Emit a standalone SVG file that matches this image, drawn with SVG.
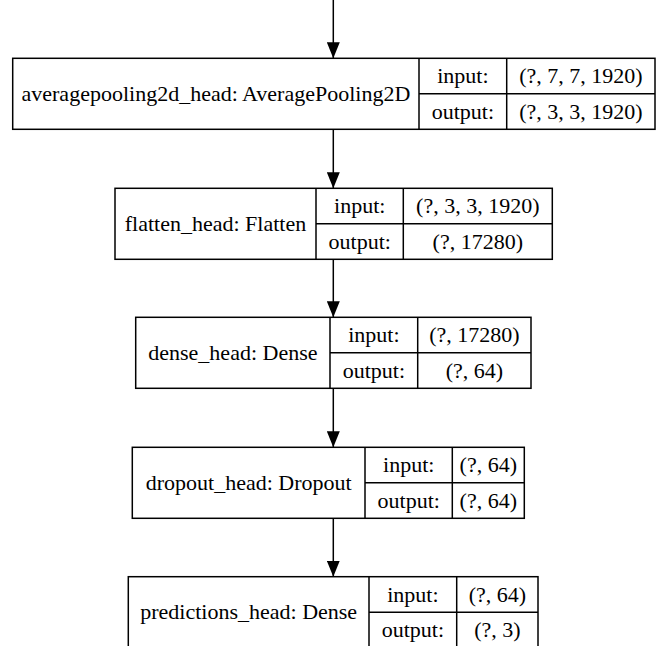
<svg xmlns="http://www.w3.org/2000/svg" width="658" height="646" viewBox="0 0 658 646">
<style>
.box{fill:#fff;stroke:#000;stroke-width:1.5}
.div{stroke:#000;stroke-width:1.5}
.edge{stroke:#000;stroke-width:1.5;fill:none}
text{font-family:"Liberation Serif","Times New Roman",serif;font-size:22px;fill:#000;text-anchor:middle}
</style>
<defs>
<marker id="ah" markerWidth="16" markerHeight="13" refX="16" refY="6.5" orient="auto" markerUnits="userSpaceOnUse">
<path d="M0,0 L16,6.5 L0,13 z" fill="#000"/>
</marker>
</defs>
<rect x="0" y="0" width="658" height="646" fill="#fff"/>
<g id="connectors">
<line class="edge" x1="333.3" y1="0" x2="333.3" y2="58.3" marker-end="url(#ah)"/>
<line class="edge" x1="333.3" y1="129.3" x2="333.3" y2="188.3" marker-end="url(#ah)"/>
<line class="edge" x1="333.3" y1="259.3" x2="333.3" y2="317.3" marker-end="url(#ah)"/>
<line class="edge" x1="333.3" y1="388.3" x2="333.3" y2="447.3" marker-end="url(#ah)"/>
<line class="edge" x1="333.3" y1="518.3" x2="333.3" y2="576.7" marker-end="url(#ah)"/>
</g>
<g id="averagepooling2d_head">
<rect class="box" x="12.7" y="58.3" width="642.3" height="71"/>
<line class="div" x1="419" y1="58.3" x2="419" y2="129.3"/>
<line class="div" x1="506.7" y1="58.3" x2="506.7" y2="129.3"/>
<line class="div" x1="419" y1="93.8" x2="655" y2="93.8"/>
<text x="215.9" y="101">averagepooling2d_head: AveragePooling2D</text>
<text x="462.9" y="83.2">input:</text>
<text x="462.9" y="118.7">output:</text>
<text x="580.9" y="83.2">(?, 7, 7, 1920)</text>
<text x="580.9" y="118.7">(?, 3, 3, 1920)</text>
</g>
<g id="flatten_head">
<rect class="box" x="115" y="188.3" width="437.3" height="71"/>
<line class="div" x1="316" y1="188.3" x2="316" y2="259.3"/>
<line class="div" x1="403.3" y1="188.3" x2="403.3" y2="259.3"/>
<line class="div" x1="316" y1="223.8" x2="552.3" y2="223.8"/>
<text x="215.5" y="231">flatten_head: Flatten</text>
<text x="359.7" y="213.2">input:</text>
<text x="359.7" y="248.7">output:</text>
<text x="477.8" y="213.2">(?, 3, 3, 1920)</text>
<text x="477.8" y="248.7">(?, 17280)</text>
</g>
<g id="dense_head">
<rect class="box" x="135.7" y="317.3" width="395.3" height="71"/>
<line class="div" x1="330" y1="317.3" x2="330" y2="388.3"/>
<line class="div" x1="417.7" y1="317.3" x2="417.7" y2="388.3"/>
<line class="div" x1="330" y1="352.8" x2="531" y2="352.8"/>
<text x="232.9" y="360">dense_head: Dense</text>
<text x="373.9" y="342.2">input:</text>
<text x="373.9" y="377.7">output:</text>
<text x="474.4" y="342.2">(?, 17280)</text>
<text x="474.4" y="377.7">(?, 64)</text>
</g>
<g id="dropout_head">
<rect class="box" x="132.3" y="447.3" width="392" height="71"/>
<line class="div" x1="365" y1="447.3" x2="365" y2="518.3"/>
<line class="div" x1="452.3" y1="447.3" x2="452.3" y2="518.3"/>
<line class="div" x1="365" y1="482.8" x2="524.3" y2="482.8"/>
<text x="248.7" y="490">dropout_head: Dropout</text>
<text x="408.7" y="472.2">input:</text>
<text x="408.7" y="507.7">output:</text>
<text x="488.3" y="472.2">(?, 64)</text>
<text x="488.3" y="507.7">(?, 64)</text>
</g>
<g id="predictions_head">
<rect class="box" x="128.3" y="576.7" width="409.7" height="71"/>
<line class="div" x1="369" y1="576.7" x2="369" y2="647.7"/>
<line class="div" x1="456.7" y1="576.7" x2="456.7" y2="647.7"/>
<line class="div" x1="369" y1="612.2" x2="538" y2="612.2"/>
<text x="248.7" y="619.4">predictions_head: Dense</text>
<text x="412.9" y="601.7">input:</text>
<text x="412.9" y="637.2">output:</text>
<text x="497.4" y="601.7">(?, 64)</text>
<text x="497.4" y="637.2">(?, 3)</text>
</g>
</svg>
